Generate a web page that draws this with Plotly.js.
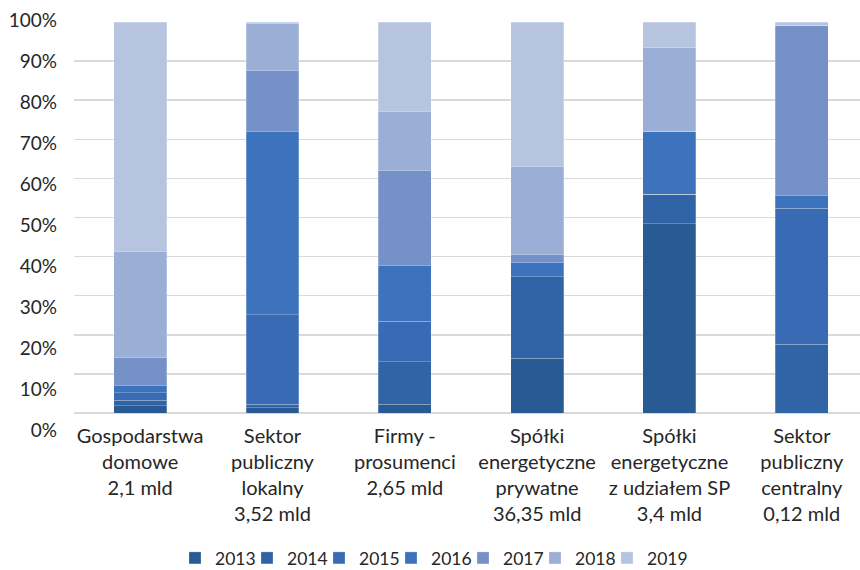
<!DOCTYPE html>
<html>
<head>
<meta charset="utf-8">
<script src="https://cdn.plot.ly/plotly-3.0.1.min.js"></script>
<style>
body{margin:0;padding:0;background:#fff}
#chart{width:860px;height:570px}
#chart g.legend g.scrollbox{clip-path:none !important}
</style>
</head>
<body>
<div id="chart"></div>
<script>
const categories = [
  "Gospodarstwa<br>domowe<br>2,1 mld",
  "Sektor<br>publiczny<br>lokalny<br>3,52 mld",
  "Firmy -<br>prosumenci<br>2,65 mld",
  "Spółki<br>energetyczne<br>prywatne<br>36,35 mld",
  "Spółki<br>energetyczne<br>z udziałem SP<br>3,4 mld",
  "Sektor<br>publiczny<br>centralny<br>0,12 mld"
];
const years = ["2013", "2014", "2015", "2016", "2017", "2018", "2019"];
const v2013 = [1.9, 1.4, 2.2, 14.0, 48.4, 0];
const v2014 = [1.4, 0.8, 10.9, 20.9, 7.6, 17.6];
const v2015 = [1.9, 22.9, 10.4, 0, 0, 34.8];
const v2016 = [1.9, 46.9, 14.2, 3.7, 16.0, 3.3];
const v2017 = [7.0, 15.5, 24.2, 1.9, 0, 43.5];
const v2018 = [27.3, 12.2, 15.3, 22.5, 21.4, 0];
const v2019 = [58.6, 0.3, 22.8, 37.0, 6.6, 0.8];
const seriesValues = [v2013, v2014, v2015, v2016, v2017, v2018, v2019];
const colors = ["#285a93", "#3164a6", "#386bb4", "#3d72bc", "#7690c8", "#9aaed6", "#b6c4df"];
const yTicks = [0, 10, 20, 30, 40, 50, 60, 70, 80, 90, 100];
const yTickText = ["0%", "10%", "20%", "30%", "40%", "50%", "60%", "70%", "80%", "90%", "100%"];

const FONT = "Lato, 'Open Sans', sans-serif";

const traces = years.map((yr, i) => ({
  type: "bar",
  name: yr,
  x: categories,
  y: seriesValues[i],
  marker: { color: colors[i], line: { color: "rgba(255,255,255,0.3)", width: 0.8 } }
}));
// empty helper trace so the tick-label axis (y2) is drawn
traces.push({ type: "scatter", mode: "markers", x: [categories[0]], y: [null],
  xaxis: "x", yaxis: "y2", showlegend: false, hoverinfo: "skip" });

const layout = {
  width: 860, height: 570,
  margin: { l: 74, r: 0, t: 10, b: 130 },
  paper_bgcolor: "#ffffff", plot_bgcolor: "rgba(0,0,0,0)",
  font: { family: FONT, size: 18, color: "#262626" },
  barmode: "stack",
  barnorm: "percent",
  bargap: 0.6,
  showlegend: true,
  legend: {
    orientation: "h", xref: "container", yref: "container",
    x: 0.2035, xanchor: "left", y: 0.021, yanchor: "middle",
    font: { family: FONT, size: 17.5, color: "#262626" },
    entrywidth: 27, entrywidthmode: "pixels", traceorder: "normal"
  },
  xaxis: {
    type: "category", range: [-0.5, 5.44], anchor: "y",
    showgrid: false, zeroline: false, showline: false,
    ticks: "", ticklabelstandoff: 9,
    tickfont: { family: FONT, size: 20, color: "#262626" }
  },
  yaxis: {
    domain: [27 / 430, 418 / 430],
    range: [0, 100], tickvals: yTicks, showticklabels: false,
    showgrid: true, gridcolor: "#d9d9d9", gridwidth: 1.5,
    zeroline: true, zerolinecolor: "#d9d9d9", zerolinewidth: 1.5,
    showline: false, ticks: ""
  },
  yaxis2: {
    domain: [0, 1], anchor: "x", side: "left",
    range: [-2.439, 102.439], tickvals: yTicks, ticktext: yTickText,
    showgrid: false, zeroline: false, showline: false, ticks: "",
    ticklabelstandoff: 16,
    tickfont: { family: FONT, size: 19, color: "#262626" }
  }
};

Plotly.newPlot("chart", traces, layout, { displayModeBar: false, staticPlot: true });
</script>
</body>
</html>
